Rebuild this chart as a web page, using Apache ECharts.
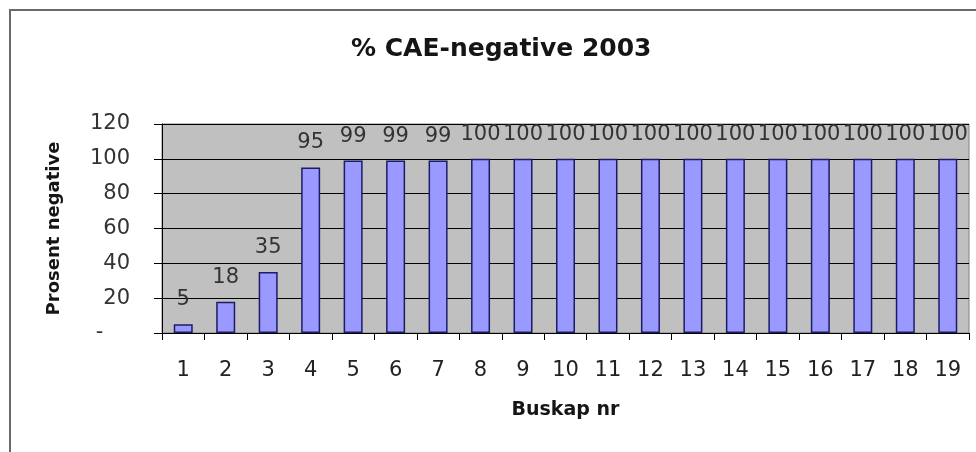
<!DOCTYPE html>
<html>
<head>
<meta charset="utf-8">
<script src="https://cdn.jsdelivr.net/npm/echarts@6/dist/echarts.min.js"></script>
<style>
  html, body { margin: 0; padding: 0; background: #fff; }
  #chart { width: 976px; height: 452px; }
</style>
</head>
<body>
<div id="chart"></div>
<script>
// buskap numbers and share of CAE-negative animals
var buskap = ['1', '2', '3', '4', '5', '6', '7', '8', '9', '10',
  '11', '12', '13', '14', '15', '16', '17', '18', '19'];
var prosent = [5, 18, 35, 95, 99, 99, 99, 100, 100, 100,
  100, 100, 100, 100, 100, 100, 100, 100, 100];

var chart = echarts.init(document.getElementById('chart'));

var wide = 'DejaVu Sans, sans-serif';

var option = {
  backgroundColor: '#ffffff',
  animation: false,
  title: {
    text: '% CAE-negative 2003',
    left: 346,
    top: 32,
    textStyle: { fontFamily: wide, fontSize: 25, fontWeight: 'bold', color: '#151515' }
  },
  graphic: [{
    type: 'rect',
    shape: { x: 10, y: 10, width: 1000, height: 500 },
    style: { fill: 'none', stroke: '#6a6a6a', lineWidth: 2 },
    silent: true
  }],
  grid: {
    left: 162,
    right: 7,
    top: 124,
    bottom: 119,
    show: true,
    backgroundColor: '#c0c0c0',
    borderColor: '#808080',
    borderWidth: 1
  },
  xAxis: {
    type: 'category',
    data: buskap,
    name: 'Buskap nr',
    nameLocation: 'middle',
    nameGap: 68,
    nameTextStyle: { fontFamily: wide, fontSize: 19, fontWeight: 'bold', color: '#151515' },
    axisLine: { lineStyle: { color: '#000', width: 1 } },
    axisTick: { show: true, length: 7, lineStyle: { color: '#000' } },
    axisLabel: { fontFamily: wide, fontSize: 21, color: '#222', margin: 27 }
  },
  yAxis: {
    type: 'value',
    min: 0,
    max: 120,
    interval: 20,
    name: 'Prosent negative',
    nameLocation: 'middle',
    nameRotate: 90,
    nameGap: 99,
    nameTextStyle: { fontFamily: wide, fontSize: 18, fontWeight: 'bold', color: '#151515' },
    axisLine: { show: true, lineStyle: { color: '#000', width: 1 } },
    axisTick: { show: true, length: 8, lineStyle: { color: '#000' } },
    axisLabel: {
      fontFamily: wide, fontSize: 21, color: '#333', margin: 32,
      formatter: function (v) { return v === 0 ? '-    ' : v; }
    },
    splitLine: { show: true, lineStyle: { color: '#000', width: 1.2 } }
  },
  series: [{
    type: 'bar',
    data: prosent,
    barWidth: 19,
    itemStyle: { color: '#9999ff', borderColor: '#1c1c66', borderWidth: 1.5 },
    label: {
      show: true,
      position: 'top',
      distance: 14,
      fontFamily: wide,
      fontSize: 21,
      color: '#333'
    }
  }]
};

chart.setOption(option);
</script>
</body>
</html>
